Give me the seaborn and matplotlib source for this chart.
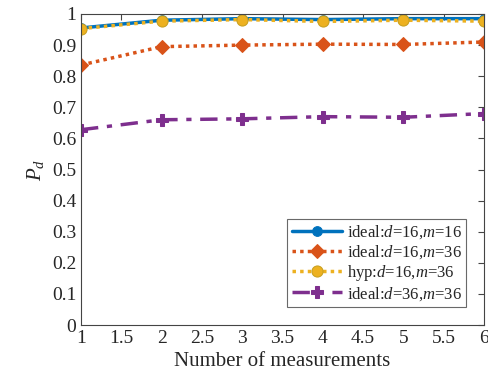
import numpy as np
import pandas as pd
import seaborn as sns
import matplotlib
matplotlib.use("Agg")
import matplotlib.pyplot as plt

x = [1, 2, 3, 4, 5, 6]
ideal_16_16 = [0.955, 0.980, 0.985, 0.982, 0.985, 0.985]
ideal_16_36 = [0.836, 0.895, 0.900, 0.903, 0.902, 0.910]
hyp_16_36 = [0.953, 0.977, 0.982, 0.976, 0.980, 0.977]
ideal_36_36 = [0.628, 0.660, 0.663, 0.670, 0.668, 0.680]
labels = [r"ideal:$d$=16,$m$=16", r"ideal:$d$=16,$m$=36",
          r"hyp:$d$=16,$m$=36", r"ideal:$d$=36,$m$=36"]

sns.set_theme(style="white")
plt.rcParams['font.family'] = ['Liberation Serif', 'DejaVu Serif']
plt.rcParams['mathtext.fontset'] = 'custom'
plt.rcParams['mathtext.it'] = 'Liberation Serif:italic'
plt.rcParams['mathtext.rm'] = 'Liberation Serif'

fig = plt.figure(figsize=(4.88, 3.78), dpi=100)
ax = fig.add_axes([0.166, 0.140, 0.826, 0.823])

series = [ideal_16_16, ideal_16_36, hyp_16_36, ideal_36_36]
colors = ["#0072BD", "#D95319", "#EDB120", "#7E2F8E"]
markers = ["o", "D", "o", "P"]
styles = ["-", ":", ":", "-."]
dashes = [None, (1, 1.2), (1, 1.2), (5, 2.5, 1.5, 2.5)]
msizes = [7, 7, 8, 9]
for ys, c, m, ls, d, lab, ms in zip(series, colors, markers, styles, dashes, labels, msizes):
    df = pd.DataFrame({"x": x, "y": ys})
    sns.lineplot(data=df, x="x", y="y", ax=ax, color=c, marker=m, linestyle=ls,
                 linewidth=2.5, markersize=ms, label=lab, markeredgecolor=c)
    line = ax.lines[-1]
    if d is not None:
        line.set_dashes(d)
    if lab.startswith("hyp"):
        line.set_markerfacecolor("#EDB120")
        line.set_markeredgecolor("#C8A020")

ax.set_xlim(1, 6)
ax.set_ylim(0, 1)
ax.set_xticks(np.arange(1, 6.01, 0.5))
ax.set_xticklabels(["1", "1.5", "2", "2.5", "3", "3.5", "4", "4.5", "5", "5.5", "6"])
ax.set_yticks(np.arange(0, 1.01, 0.1))
ax.set_yticklabels(["0", "0.1", "0.2", "0.3", "0.4", "0.5", "0.6", "0.7", "0.8", "0.9", "1"])
ax.tick_params(direction="in", top=True, right=True, length=4, labelsize=14,
               color="#444444", width=0.8)
for s in ax.spines.values():
    s.set_color("#444444")
    s.set_linewidth(0.8)
ax.set_xlabel("Number of measurements", fontsize=15)
ax.set_ylabel(r"$P_d$", fontsize=15)
leg = ax.legend(loc="lower right", fontsize=12, frameon=True, fancybox=False,
                edgecolor="#444444", borderpad=0.25, labelspacing=0.12,
                handlelength=3.0, handletextpad=0.3, borderaxespad=1.1)
leg.get_frame().set_linewidth(0.8)
fig.savefig("out.png", dpi=100)
